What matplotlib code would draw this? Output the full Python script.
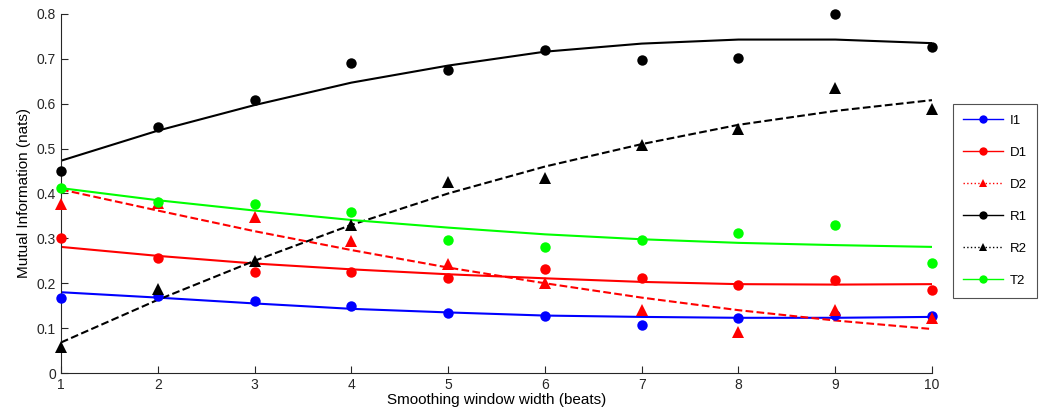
import numpy as np
import matplotlib
matplotlib.use("Agg")
import matplotlib.pyplot as plt
from matplotlib.lines import Line2D

plt.rcParams.update({
    "font.family": ["Liberation Sans", "DejaVu Sans"],
    "font.size": 10,
    "xtick.direction": "in",
    "ytick.direction": "in",
    "axes.spines.top": False,
    "axes.spines.right": False,
})

# ── Data ───────────────────────────────────────────────────────
window = [1, 2, 3, 4, 5, 6, 7, 8, 9, 10]

i1_pts = [0.167, 0.172, 0.160, 0.149, 0.133, 0.127, 0.108, 0.122, 0.129, 0.126]
i1_fit = [0.180, 0.168, 0.155, 0.143, 0.135, 0.128, 0.125, 0.123, 0.123, 0.125]

d1_pts = [0.300, 0.257, 0.224, 0.224, 0.211, 0.232, 0.211, 0.195, 0.207, 0.185]
d1_fit = [0.281, 0.261, 0.244, 0.231, 0.220, 0.211, 0.203, 0.198, 0.197, 0.198]

d2_pts = [0.377, 0.378, 0.348, 0.295, 0.242, 0.201, 0.140, 0.092, 0.140, 0.122]
d2_fit = [0.409, 0.362, 0.316, 0.274, 0.235, 0.200, 0.168, 0.140, 0.117, 0.098]

r1_pts = [0.450, 0.548, 0.608, 0.690, 0.675, 0.720, 0.697, 0.701, 0.799, 0.726]
r1_fit = [0.473, 0.540, 0.597, 0.647, 0.685, 0.716, 0.734, 0.743, 0.743, 0.735]

r2_pts = [0.059, 0.188, 0.250, 0.330, 0.426, 0.435, 0.507, 0.543, 0.636, 0.589]
r2_fit = [0.068, 0.163, 0.250, 0.330, 0.400, 0.460, 0.510, 0.553, 0.584, 0.608]

t2_pts = [0.412, 0.382, 0.376, 0.358, 0.296, 0.281, 0.296, 0.313, 0.329, 0.245]
t2_fit = [0.412, 0.385, 0.362, 0.341, 0.324, 0.309, 0.298, 0.290, 0.285, 0.281]

labels = ["I1", "D1", "D2", "R1", "R2", "T2"]

BLUE = "#0000ff"
RED = "#ff0000"
BLACK = "#000000"
GREEN = "#00ff00"

series = [
    # pts, fit, colour, marker, fit style, legend style
    (i1_pts, i1_fit, BLUE, "o", "-", "-"),
    (d1_pts, d1_fit, RED, "o", "-", "-"),
    (d2_pts, d2_fit, RED, "^", "--", ":"),
    (r1_pts, r1_fit, BLACK, "o", "-", "-"),
    (r2_pts, r2_fit, BLACK, "^", "--", ":"),
    (t2_pts, t2_fit, GREEN, "o", "-", "-"),
]

fig = plt.figure(figsize=(10.44, 4.2), dpi=100)
ax = fig.add_axes([0.0584, 0.1119, 0.8343, 0.8548])

handles = []
for (pts, fit, col, mk, ls, lls), lab in zip(series, labels):
    ax.plot(window, fit, color=col, ls=ls, lw=1.5, zorder=2)
    ax.plot(window, pts, ls="none", marker=mk, color=col,
            markersize=7.5 if mk == "o" else 8, markeredgewidth=0,
            zorder=3, clip_on=False)
    handles.append(Line2D([0], [0], color=col, ls=lls, lw=1.0,
                          marker=mk, markersize=6, markeredgewidth=0,
                          label=lab))

ax.set_xlim(1, 10)
ax.set_ylim(0, 0.8)
ax.set_xticks(window)
ax.set_yticks(np.arange(0, 0.81, 0.1))
ax.set_yticklabels(["0", "0.1", "0.2", "0.3", "0.4", "0.5", "0.6", "0.7", "0.8"])
ax.tick_params(colors="#262626", labelsize=10, length=5, width=0.8)
for sp in ("left", "bottom"):
    ax.spines[sp].set_color("#262626")
    ax.spines[sp].set_linewidth(0.8)

ax.set_xlabel("Smoothing window width (beats)", fontsize=11, labelpad=1)
ax.set_ylabel("Mutual Information (nats)", fontsize=11, labelpad=4)

leg = fig.legend(handles=handles, loc="upper left",
                 bbox_to_anchor=(0.9125, 0.752), frameon=True,
                 fancybox=False, edgecolor="#262626", fontsize=9.5,
                 handlelength=3.0, labelspacing=1.5, borderpad=0.8,
                 handletextpad=0.5, borderaxespad=0)
leg.get_frame().set_linewidth(0.8)

fig.savefig("out.png", dpi=100)
